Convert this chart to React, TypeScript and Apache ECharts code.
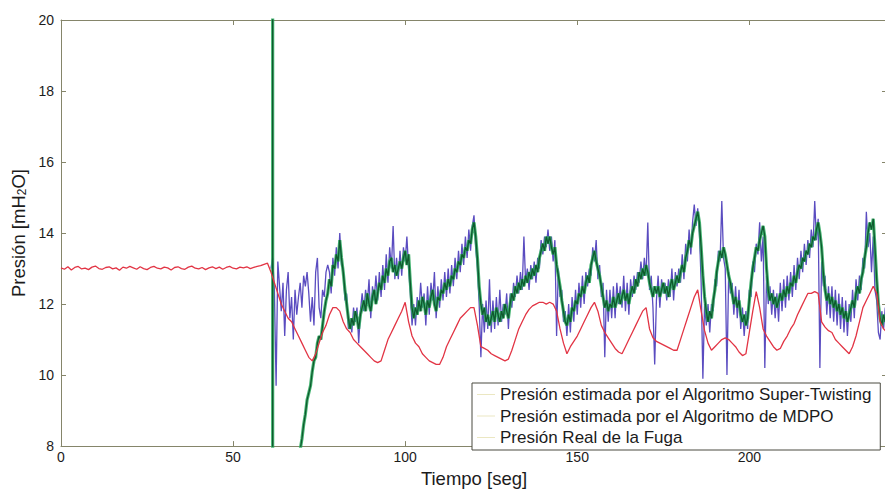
import React, { useEffect, useRef } from "react";
import * as echarts from "echarts";

// ---------- data ----------
const seriesNames = [
  "Presión estimada por el Algoritmo Super-Twisting",
  "Presión estimada por el Algoritmo de MDPO",
  "Presión Real de la Fuga",
];

// Real leak pressure, t = 0..240 s, step 1 s
const realStart = 0;
const realStep = 1;
const realValues = [
  13.02, 12.98, 13.05, 12.96, 13.03, 13.06, 12.99, 13.01, 12.97, 13.04,
  13.07, 13.0, 12.98, 13.03, 13.05, 12.99, 13.02, 12.95, 13.04, 13.01,
  13.06, 13.02, 12.98, 13.05, 13.0, 12.97, 13.03, 13.06, 13.01, 12.99,
  13.04, 13.02, 12.96, 13.03, 13.05, 13.0, 12.98, 13.04, 13.07, 13.01,
  12.99, 13.03, 12.97, 13.02, 13.05, 13.0, 13.04, 12.98, 13.03, 13.06,
  13.01, 12.99, 13.04, 13.02, 13.05, 13.0, 13.03, 13.06, 13.08, 13.12,
  13.15, 12.9, 12.6, 12.3, 12.0, 11.8, 11.6, 11.5, 11.3, 11.1,
  10.9, 10.7, 10.5, 10.4, 10.6, 10.9, 11.2, 11.4, 11.7, 11.9,
  11.9, 11.8, 11.5, 11.3, 11.2, 11.0, 10.9, 10.8, 10.7, 10.6,
  10.5, 10.4, 10.35, 10.4, 10.7, 11.0, 11.2, 11.4, 11.6, 11.8,
  12.05, 11.5, 11.1, 10.9, 10.8, 10.6, 10.5, 10.4, 10.35, 10.3,
  10.3, 10.5, 10.8, 11.0, 11.2, 11.4, 11.6, 11.7, 11.8, 11.9,
  11.9, 11.4, 10.8, 10.75, 10.7, 10.6, 10.55, 10.5, 10.45, 10.4,
  10.45, 10.7, 11.0, 11.3, 11.5, 11.7, 11.85, 11.95, 12.0, 12.05,
  12.05, 12.0, 12.05, 12.0, 11.8, 11.3, 10.9, 10.6, 10.8, 10.95,
  11.1, 11.3, 11.5, 11.7, 11.9, 12.05, 11.8, 11.4, 11.2, 11.05,
  10.9, 10.75, 10.65, 10.6, 10.8, 11.0, 11.2, 11.4, 11.6, 11.8,
  11.9, 11.3, 11.05, 10.95, 10.9, 10.85, 10.8, 10.75, 10.7, 10.7,
  11.0, 11.3, 11.6, 11.9, 12.2, 12.4, 11.8, 11.25, 10.9, 10.7,
  10.8, 10.9, 11.0, 11.05, 11.0, 10.9, 10.8, 10.65, 10.55, 10.6,
  11.2, 11.8, 12.35, 11.9, 11.3, 11.1, 10.95, 10.8, 10.7, 10.75,
  10.95, 11.1, 11.3, 11.45, 11.7, 11.9, 12.1, 12.3, 12.3, 12.35,
  12.3, 11.5, 11.35, 11.25, 11.2, 11.0, 10.9, 10.8, 10.7, 10.6,
  10.8, 11.1, 11.5, 11.9, 12.1, 12.3, 12.5, 12.3, 11.5, 11.3,
  11.2,
];

// MDPO estimate: a vertical jump at t = 61.5 s, then t = 62..240 s, step 0.5 s
const mdpoJumpT = 61.5;
const mdpoJumpValues = [13.0, 21.0, 3.0];
const mdpoStart = 62;
const mdpoStep = 0.5;
const mdpoValues = [
  3.0, 3.4, 3.9, 4.3, 4.6, 5.1, 5.4, 5.8,
  6.1, 6.5, 6.8, 7.1, 7.3, 7.6, 7.8, 7.9, 8.2, 8.6,
  8.9, 9.3, 9.5, 9.7, 10.1, 10.4, 10.5, 10.9, 11.1, 11.0,
  11.4, 11.8, 12.1, 12.3, 12.7, 12.5, 13.1, 13.0, 13.4, 13.2,
  13.8, 13.3, 12.9, 12.4, 12.0, 11.6, 11.3, 11.6, 11.4, 11.8,
  11.6, 11.3, 11.7, 11.9, 12.1, 11.8, 12.3, 12.0, 11.8, 12.2,
  12.4, 12.0, 12.3, 12.6, 12.4, 12.8, 12.6, 13.0, 12.8, 13.2,
  13.3, 12.9, 13.1, 12.8, 13.0, 13.2, 13.0, 13.3, 13.5, 13.1,
  13.4, 12.6, 11.9, 11.6, 11.9, 11.7, 12.1, 11.8, 12.2, 12.0,
  11.7, 12.1, 11.9, 12.2, 12.4, 12.0, 11.8, 12.2, 12.1, 12.4,
  12.3, 12.6, 12.4, 12.7, 12.5, 12.8, 12.7, 13.0, 12.9, 13.2,
  13.1, 13.4, 13.3, 13.6, 13.5, 13.8, 13.7, 14.1, 14.3, 13.9,
  13.3, 12.5, 12.0, 11.7, 11.9, 11.5, 11.7, 11.4, 11.6, 11.8,
  11.5, 11.9, 11.7, 11.5, 11.8, 11.6, 12.0, 11.8, 11.6, 12.0,
  12.3, 12.1, 12.5, 12.3, 12.6, 12.4, 12.7, 12.5, 12.8, 12.6,
  12.9, 12.7, 13.0, 12.8, 13.1, 12.9, 13.3, 13.5, 13.7, 13.5,
  13.9, 13.7, 13.9, 13.6, 13.4, 13.6, 13.1, 12.8, 12.5, 12.1,
  11.8, 11.5, 11.4, 11.7, 11.5, 11.9, 11.8, 12.1, 12.0, 12.3,
  12.2, 12.5, 12.3, 12.6, 12.8, 12.6, 13.1, 13.3, 13.5, 13.2,
  13.0, 12.8, 12.5, 12.2, 11.9, 12.1, 11.8, 12.0, 11.9, 12.2,
  11.9, 12.1, 12.3, 12.0, 12.2, 12.4, 12.1, 12.3, 12.0, 12.3,
  12.5, 12.3, 12.7, 12.5, 12.9, 12.7, 13.0, 12.8, 13.1, 12.9,
  12.6, 12.4, 12.2, 12.5, 12.3, 12.5, 12.2, 12.4, 12.6, 12.3,
  12.5, 12.2, 12.5, 12.7, 12.4, 12.6, 12.8, 12.6, 12.9, 13.1,
  12.9, 13.3, 13.5, 13.8, 13.6, 14.0, 14.2, 14.4, 14.6, 14.3,
  13.6, 12.8, 12.2, 11.8, 11.5, 11.8, 11.6, 12.1, 12.4, 12.9,
  13.2, 13.5, 13.3, 13.6, 13.4, 13.1, 12.8, 12.6, 12.3, 12.0,
  12.2, 11.9, 12.1, 11.7, 11.5, 11.7, 11.4, 11.6, 12.1, 12.6,
  13.0, 13.3, 13.6, 13.5, 13.8, 14.0, 14.2, 13.9, 13.0, 12.4,
  12.1, 12.3, 12.0, 12.2, 11.9, 12.1, 12.3, 12.1, 12.4, 12.2,
  12.5, 12.3, 12.6, 12.5, 12.8, 12.6, 12.9, 13.1, 13.0, 13.3,
  13.2, 13.5, 13.4, 13.7, 13.6, 13.9, 13.8, 14.1, 14.3, 14.0,
  13.6, 12.9, 12.4, 12.1, 12.3, 12.0, 12.2, 11.9, 12.1, 11.8,
  12.0, 11.7, 11.9, 11.6, 11.8, 11.5, 11.7, 11.9, 12.1, 11.9,
  12.3, 12.5, 12.3, 12.7, 12.9, 13.3, 13.6, 14.0, 14.3, 14.1,
  14.4, 13.6, 12.7, 12.0, 11.6, 11.4, 11.7, 11.5, 11.8,
];

// Super-Twisting estimate, t = 61..240 s, step 0.5 s
const stStart = 61;
const stStep = 0.5;
const stValues = [
  13.0, 13.3, 12.4, 9.7, 13.2, 12.5, 11.8, 12.6, 11.1, 12.4,
  12.9, 11.6, 12.2, 11.0, 12.4, 11.7, 12.2, 12.6, 11.9, 12.8,
  12.5, 12.9, 12.3, 11.5, 12.2, 11.4, 12.9, 13.3, 11.9, 11.6,
  12.4, 12.2, 12.9, 13.1, 12.9, 12.3, 13.3, 12.8, 13.6, 13.0,
  14.0, 13.1, 13.0, 12.1, 12.3, 11.3, 11.6, 11.2, 11.9, 11.5,
  11.9, 10.9, 11.8, 12.3, 11.8, 12.4, 12.0, 12.7, 11.6, 12.5,
  12.1, 12.8, 12.1, 12.9, 12.2, 13.1, 12.4, 13.4, 12.6, 13.6,
  13.0, 14.2, 12.7, 13.3, 12.7, 13.5, 12.8, 13.6, 13.2, 13.9,
  13.0, 12.3, 11.4, 12.0, 11.4, 12.2, 11.8, 12.6, 11.9, 12.3,
  11.4, 12.5, 11.7, 12.6, 12.1, 12.9, 11.6, 12.5, 11.9, 12.7,
  12.1, 12.9, 12.2, 13.0, 12.3, 13.1, 12.5, 13.3, 12.7, 13.5,
  12.9, 13.7, 13.1, 13.9, 13.3, 14.1, 13.5, 14.2, 14.5, 13.6,
  13.0, 12.0, 10.5, 12.0, 11.2, 12.1, 11.3, 12.7, 11.2, 12.1,
  11.3, 12.2, 11.4, 12.4, 11.5, 12.0, 11.7, 12.3, 11.3, 12.3,
  11.9, 12.6, 12.2, 12.8, 12.3, 12.9, 12.4, 13.9, 12.6, 13.0,
  12.4, 13.1, 12.7, 13.2, 12.6, 13.3, 13.0, 13.8, 13.4, 13.9,
  13.6, 14.1, 13.5, 13.9, 13.2, 13.8, 11.1, 13.0, 12.2, 12.4,
  11.5, 11.8, 11.1, 12.0, 11.2, 12.2, 11.5, 12.4, 11.7, 12.6,
  11.9, 12.8, 12.0, 12.9, 12.5, 13.0, 12.8, 13.6, 13.2, 13.8,
  12.7, 13.1, 12.2, 12.6, 10.5, 12.4, 11.5, 12.4, 11.6, 12.5,
  11.6, 12.6, 12.0, 12.5, 11.9, 12.8, 11.8, 12.6, 11.7, 12.7,
  12.2, 12.8, 12.4, 12.9, 12.6, 13.2, 12.7, 13.3, 12.8, 14.3,
  12.4, 12.8, 11.9, 10.3, 12.1, 12.8, 11.9, 12.7, 12.3, 12.6,
  12.1, 12.7, 12.2, 13.0, 12.1, 12.9, 12.5, 13.0, 12.6, 13.4,
  12.7, 13.7, 13.2, 14.1, 13.4, 14.3, 14.8, 14.2, 14.7, 14.0,
  12.6, 9.9, 12.0, 11.4, 12.0, 11.2, 12.0, 11.8, 12.7, 12.5,
  13.5, 13.2, 14.9, 13.3, 13.0, 10.0, 12.9, 12.3, 12.6, 11.7,
  12.5, 11.6, 12.4, 11.3, 11.9, 11.1, 11.8, 11.3, 12.4, 12.2,
  13.2, 12.9, 13.7, 13.4, 14.3, 13.2, 13.9, 10.2, 12.8, 12.0,
  12.5, 11.7, 12.4, 11.6, 12.3, 11.5, 12.6, 11.8, 12.7, 11.9,
  12.8, 12.1, 12.9, 12.2, 13.1, 12.4, 13.3, 12.7, 13.5, 12.9,
  13.7, 13.1, 13.8, 13.3, 14.1, 13.6, 14.9, 13.8, 14.4, 10.2,
  13.2, 12.5, 12.8, 11.7, 12.5, 11.6, 12.5, 11.5, 12.4, 11.4,
  12.3, 11.3, 12.2, 11.2, 12.1, 11.1, 12.0, 11.5, 12.4, 11.6,
  12.7, 12.1, 12.8, 12.4, 13.3, 13.0, 14.6, 13.6, 14.0, 12.9,
  13.9, 12.4, 12.1, 11.2, 11.0, 11.8, 11.3, 11.9, 11.2,
];

const xMin = 0;
const xMax = 240;
const xInterval = 50;
const yMin = 8;
const yMax = 20;
const yInterval = 2;

const FONT = "'Liberation Sans', Arial, Helvetica, sans-serif";
const AXIS_COLOR = "#85856a";
const TEXT_COLOR = "#1c1c1c";

function toPairs(start: number, step: number, vals: number[]) {
  return vals.map((v, i) => [start + i * step, v]);
}

export default function App() {
  const ref = useRef<HTMLDivElement>(null);

  useEffect(() => {
    document.body.style.overflow = "hidden";
    if (!ref.current) return;
    const chart = echarts.init(ref.current, undefined, { renderer: "svg" });

    const axisLine = { show: true, onZero: false, lineStyle: { color: AXIS_COLOR, width: 1 } };
    const axisTick = { show: true, inside: true, length: 5, lineStyle: { color: AXIS_COLOR, width: 1 } };

    const mdpoData = [
      ...mdpoJumpValues.map((v) => [mdpoJumpT, v]),
      ...toPairs(mdpoStart, mdpoStep, mdpoValues),
    ];

    chart.setOption({
      animation: false,
      backgroundColor: "#ffffff",
      textStyle: { fontFamily: FONT },
      grid: { left: 61, top: 20, right: 13, bottom: 34, containLabel: false },
      legend: {
        orient: "vertical",
        left: 472,
        top: 383,
        padding: [3, 8, 4, 5],
        itemGap: 4.5,
        itemWidth: 18,
        itemHeight: 1,
        icon: "rect",
        selectedMode: false,
        backgroundColor: "#ffffff",
        borderColor: "#4a4a40",
        borderWidth: 1,
        borderRadius: 0,
        textStyle: { fontSize: 17, color: TEXT_COLOR, fontFamily: FONT },
        data: seriesNames.map((n) => ({ name: n, itemStyle: { color: "#ebe7c2" } })),
      },
      xAxis: [
        {
          type: "value",
          position: "bottom",
          min: xMin,
          max: xMax,
          interval: xInterval,
          axisLine,
          axisTick,
          splitLine: { show: false },
          axisLabel: {
            color: TEXT_COLOR,
            fontSize: 14,
            margin: 4,
            fontFamily: FONT,
            showMaxLabel: false,
          },
          name: "Tiempo [seg]",
          nameLocation: "middle",
          nameGap: 14,
          nameTextStyle: { fontSize: 18.5, color: TEXT_COLOR, fontFamily: FONT },
        },
        {
          type: "value",
          position: "top",
          min: xMin,
          max: xMax,
          interval: xInterval,
          axisLine,
          axisTick,
          splitLine: { show: false },
          axisLabel: { show: false },
        },
      ],
      yAxis: [
        {
          type: "value",
          position: "left",
          min: yMin,
          max: yMax,
          interval: yInterval,
          axisLine,
          axisTick,
          splitLine: { show: false },
          axisLabel: { color: TEXT_COLOR, fontSize: 14, margin: 7, fontFamily: FONT },
          name: "{n|Presión [mH}{s|2}{n|O]}",
          nameLocation: "middle",
          nameRotate: 90,
          nameGap: 30,
          nameTextStyle: {
            color: TEXT_COLOR,
            fontFamily: FONT,
            rich: {
              n: { fontSize: 18.5, color: TEXT_COLOR, fontFamily: FONT },
              s: { fontSize: 12, color: TEXT_COLOR, fontFamily: FONT, verticalAlign: "bottom" },
            },
          },
        },
        {
          type: "value",
          position: "right",
          min: yMin,
          max: yMax,
          interval: yInterval,
          axisLine,
          axisTick,
          splitLine: { show: false },
          axisLabel: { show: false },
        },
      ],
      series: [
        {
          name: seriesNames[0],
          type: "line",
          symbol: "none",
          showSymbol: false,
          clip: true,
          lineStyle: { color: "#5a4cc0", width: 1.3 },
          itemStyle: { color: "#5a4cc0" },
          data: toPairs(stStart, stStep, stValues),
        },
        {
          name: "mdpo-halo",
          type: "line",
          symbol: "none",
          showSymbol: false,
          clip: true,
          silent: true,
          lineStyle: { color: "#27a85a", width: 3.2, opacity: 0.85 },
          itemStyle: { color: "#27a85a" },
          data: mdpoData,
        },
        {
          name: seriesNames[1],
          type: "line",
          symbol: "none",
          showSymbol: false,
          clip: true,
          lineStyle: { color: "#0f5a2e", width: 1.3 },
          itemStyle: { color: "#0f5a2e" },
          data: mdpoData,
        },
        {
          name: seriesNames[2],
          type: "line",
          symbol: "none",
          showSymbol: false,
          clip: true,
          lineStyle: { color: "#e23444", width: 1.3 },
          itemStyle: { color: "#e23444" },
          data: toPairs(realStart, realStep, realValues),
        },
      ],
    });

    return () => {
      chart.dispose();
    };
  }, []);

  return (
    <div
      ref={ref}
      style={{ position: "fixed", left: 0, top: 0, width: 900, height: 493 }}
    />
  );
}
